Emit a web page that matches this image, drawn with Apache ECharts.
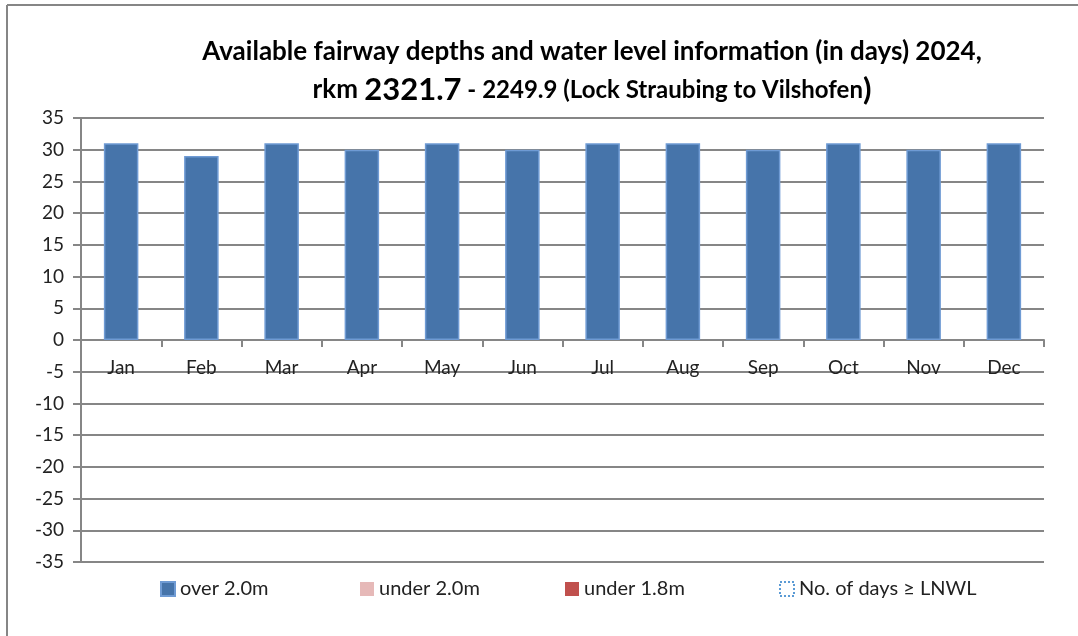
<!DOCTYPE html>
<html>
<head>
<meta charset="utf-8">
<script src="https://cdn.jsdelivr.net/npm/echarts@6/dist/echarts.min.js"></script>
<style>
  html, body { margin: 0; padding: 0; background: #fff; }
  #chart { width: 1078px; height: 636px; }
</style>
</head>
<body>
<div id="chart"></div>
<script>
// 月份
var months = ['Jan', 'Feb', 'Mar', 'Apr', 'May', 'Jun', 'Jul', 'Aug', 'Sep', 'Oct', 'Nov', 'Dec'];
// 各类天数
var over20 = [31, 29, 31, 30, 31, 30, 31, 31, 30, 31, 30, 31];
var under20 = [0, 0, 0, 0, 0, 0, 0, 0, 0, 0, 0, 0];
var under18 = [0, 0, 0, 0, 0, 0, 0, 0, 0, 0, 0, 0];
var lnwl = [0, 0, 0, 0, 0, 0, 0, 0, 0, 0, 0, 0];
var seriesNames = ['over 2.0m', 'under 2.0m', 'under 1.8m', 'No. of days \u2265 LNWL'];

var font = 'Lato, "Open Sans", sans-serif';
var myChart = echarts.init(document.getElementById('chart'));

// 图例样式
var legendIcons = [
    { color: '#4674AA' },
    { color: '#E6B9B8' },
    { color: '#C0504D' },
    { color: 'rgba(0,0,0,0)', borderColor: '#5B9BD5', borderWidth: 2, borderType: 'dotted' }
];
var legendLeft = [155, 355, 560, 774];
var legends = [];
for (var i = 0; i < seriesNames.length; i++) {
    legends.push({
        top: 574,
        left: legendLeft[i],
        itemWidth: 14,
        itemHeight: 14,
        itemGap: 8,
        textStyle: { fontFamily: font, fontSize: 20, color: '#222' },
        data: [{ name: seriesNames[i], icon: 'rect', itemStyle: legendIcons[i] }]
    });
}

var option = {
    backgroundColor: '#fff',
    animation: false,
    textStyle: { fontFamily: font },
    title: {
        text: 'Available fairway depths and water level information (in days) 2024,\n{a|rkm }{b|2321.7}{c| - 2249.9 (Lock Straubing to Vilshofen}{d|)}',
        left: 587,
        textAlign: 'center',
        top: 28,
        textStyle: {
            fontFamily: font,
            fontSize: 26,
            fontWeight: 'bold',
            color: '#000',
            lineHeight: 38,
            rich: {
                a: { fontFamily: font, fontSize: 26, fontWeight: 'bold', color: '#000' },
                b: { fontFamily: font, fontSize: 31, fontWeight: 'bold', color: '#000' },
                c: { fontFamily: font, fontSize: 24, fontWeight: 'bold', color: '#000' },
                d: { fontFamily: font, fontSize: 31, fontWeight: 'bold', color: '#000' }
            }
        }
    },
    legend: legends,
    grid: {
        left: 81,
        right: 34,
        top: 118,
        bottom: 74
    },
    xAxis: {
        type: 'category',
        data: months,
        position: 'bottom',
        offset: -222,
        axisLine: { onZero: false, lineStyle: { color: '#868686', width: 2 } },
        axisTick: { show: true, length: 7, lineStyle: { color: '#868686', width: 2 } },
        axisLabel: { fontSize: 19, color: '#222', margin: 18, fontFamily: font },
        splitLine: { show: false }
    },
    yAxis: {
        type: 'value',
        min: -35,
        max: 35,
        interval: 5,
        axisLine: { show: true, lineStyle: { color: '#868686', width: 2 } },
        axisTick: { show: true, length: 8, lineStyle: { color: '#868686', width: 2 } },
        axisLabel: { fontSize: 19, color: '#222', margin: 17, fontFamily: font },
        splitLine: { show: true, lineStyle: { color: '#868686', width: 2 } }
    },
    series: [
        {
            name: seriesNames[0],
            type: 'bar',
            stack: 'days',
            barWidth: '43%',
            data: over20,
            itemStyle: { color: '#4674AA', borderColor: '#6F9BD4', borderWidth: 1.5 }
        },
        {
            name: seriesNames[1],
            type: 'bar',
            stack: 'days',
            data: under20,
            itemStyle: { color: '#E6B9B8', borderWidth: 0 }
        },
        {
            name: seriesNames[2],
            type: 'bar',
            stack: 'days',
            data: under18,
            itemStyle: { color: '#C0504D', borderWidth: 0 }
        },
        {
            name: seriesNames[3],
            type: 'bar',
            stack: 'days',
            data: lnwl,
            itemStyle: { color: 'rgba(0,0,0,0)', borderWidth: 0 }
        }
    ],
    graphic: [
        { type: 'line', shape: { x1: 7, y1: 5, x2: 7, y2: 636 }, style: { stroke: '#868686', lineWidth: 2 } },
        { type: 'line', shape: { x1: 7, y1: 5, x2: 1078, y2: 5 }, style: { stroke: '#868686', lineWidth: 2 } }
    ]
};

myChart.setOption(option);
</script>
</body>
</html>
